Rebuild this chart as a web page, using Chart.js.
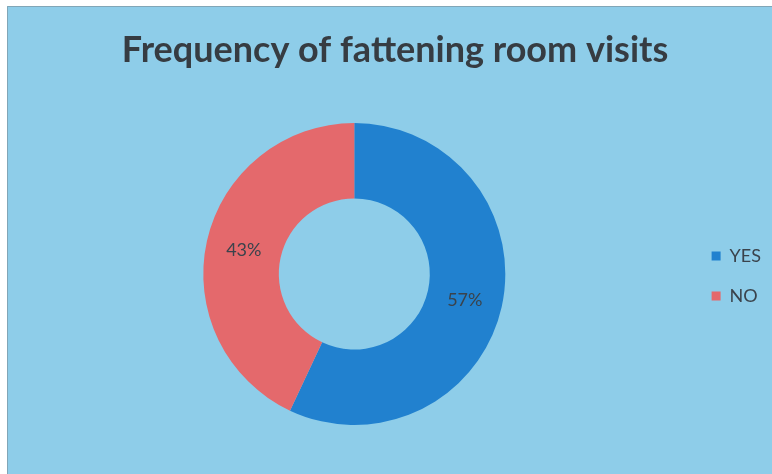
<!DOCTYPE html>
<html>
<head>
<meta charset="utf-8">
<style>
  html, body { margin: 0; padding: 0; background: #ffffff; }
  #wrap { position: relative; width: 772px; height: 474px; }
  canvas { display: block; }
</style>
<script src="https://cdn.jsdelivr.net/npm/chart.js@4/dist/chart.umd.min.js"></script>
</head>
<body>
<div id="wrap"><canvas id="chart" width="772" height="474"></canvas></div>
<script>
// Survey answers: did respondents visit a fattening room?
const categories = ['YES', 'NO'];
const shares = [57, 43];
const sliceColors = ['#2181cf', '#e4696c'];

const chartTitle = 'Frequency of fattening room visits';

// Light blue card behind the chart, with a thin white margin on top/left
const cardBackground = {
  id: 'cardBackground',
  beforeDraw(chart) {
    const { ctx, width, height } = chart;
    ctx.save();
    ctx.fillStyle = '#ffffff';
    ctx.fillRect(0, 0, width, height);
    ctx.fillStyle = '#8ecde9';
    ctx.fillRect(7, 6, width - 7, height - 6);
    ctx.strokeStyle = 'rgba(120,140,150,0.6)';
    ctx.lineWidth = 1;
    ctx.beginPath();
    ctx.moveTo(7.5, height);
    ctx.lineTo(7.5, 6.5);
    ctx.lineTo(width, 6.5);
    ctx.stroke();
    ctx.restore();
  }
};

// Percentage labels placed at the middle of each ring segment
const sliceLabels = {
  id: 'sliceLabels',
  afterDatasetsDraw(chart) {
    const { ctx } = chart;
    const meta = chart.getDatasetMeta(0);
    const values = chart.data.datasets[0].data;
    const total = values.reduce((a, b) => a + b, 0);
    ctx.save();
    ctx.font = '18px Lato';
    ctx.fillStyle = '#3a434c';
    ctx.textAlign = 'center';
    ctx.textBaseline = 'middle';
    meta.data.forEach((arc, i) => {
      const p = arc.tooltipPosition();
      const pct = Math.round(values[i] / total * 100);
      ctx.fillText(pct + '%', p.x, p.y + 1);
    });
    ctx.restore();
  }
};

new Chart(document.getElementById('chart'), {
  type: 'doughnut',
  data: {
    labels: categories,
    datasets: [{
      data: shares,
      backgroundColor: sliceColors,
      borderWidth: 0,
      hoverOffset: 0
    }]
  },
  options: {
    responsive: false,
    animation: false,
    cutout: '50%',
    layout: { padding: { left: 19, right: 1, top: 0, bottom: 49 } },
    plugins: {
      title: {
        display: true,
        text: chartTitle,
        color: '#363c42',
        font: { family: 'Lato', size: 36, weight: 'bold' },
        padding: { top: 28.4, bottom: 51.4 }
      },
      legend: {
        position: 'right',
        align: 'start',
        // blank title only pushes the entries down beside the ring
        title: { display: true, text: ' ', padding: { top: 210.6, bottom: 0 } },
        labels: {
          color: '#3a434c',
          font: { family: 'Lato', size: 18 },
          boxWidth: 9,
          boxHeight: 9,
          padding: 22
        }
      },
      tooltip: { enabled: false }
    }
  },
  plugins: [cardBackground, sliceLabels]
});
</script>
</body>
</html>
